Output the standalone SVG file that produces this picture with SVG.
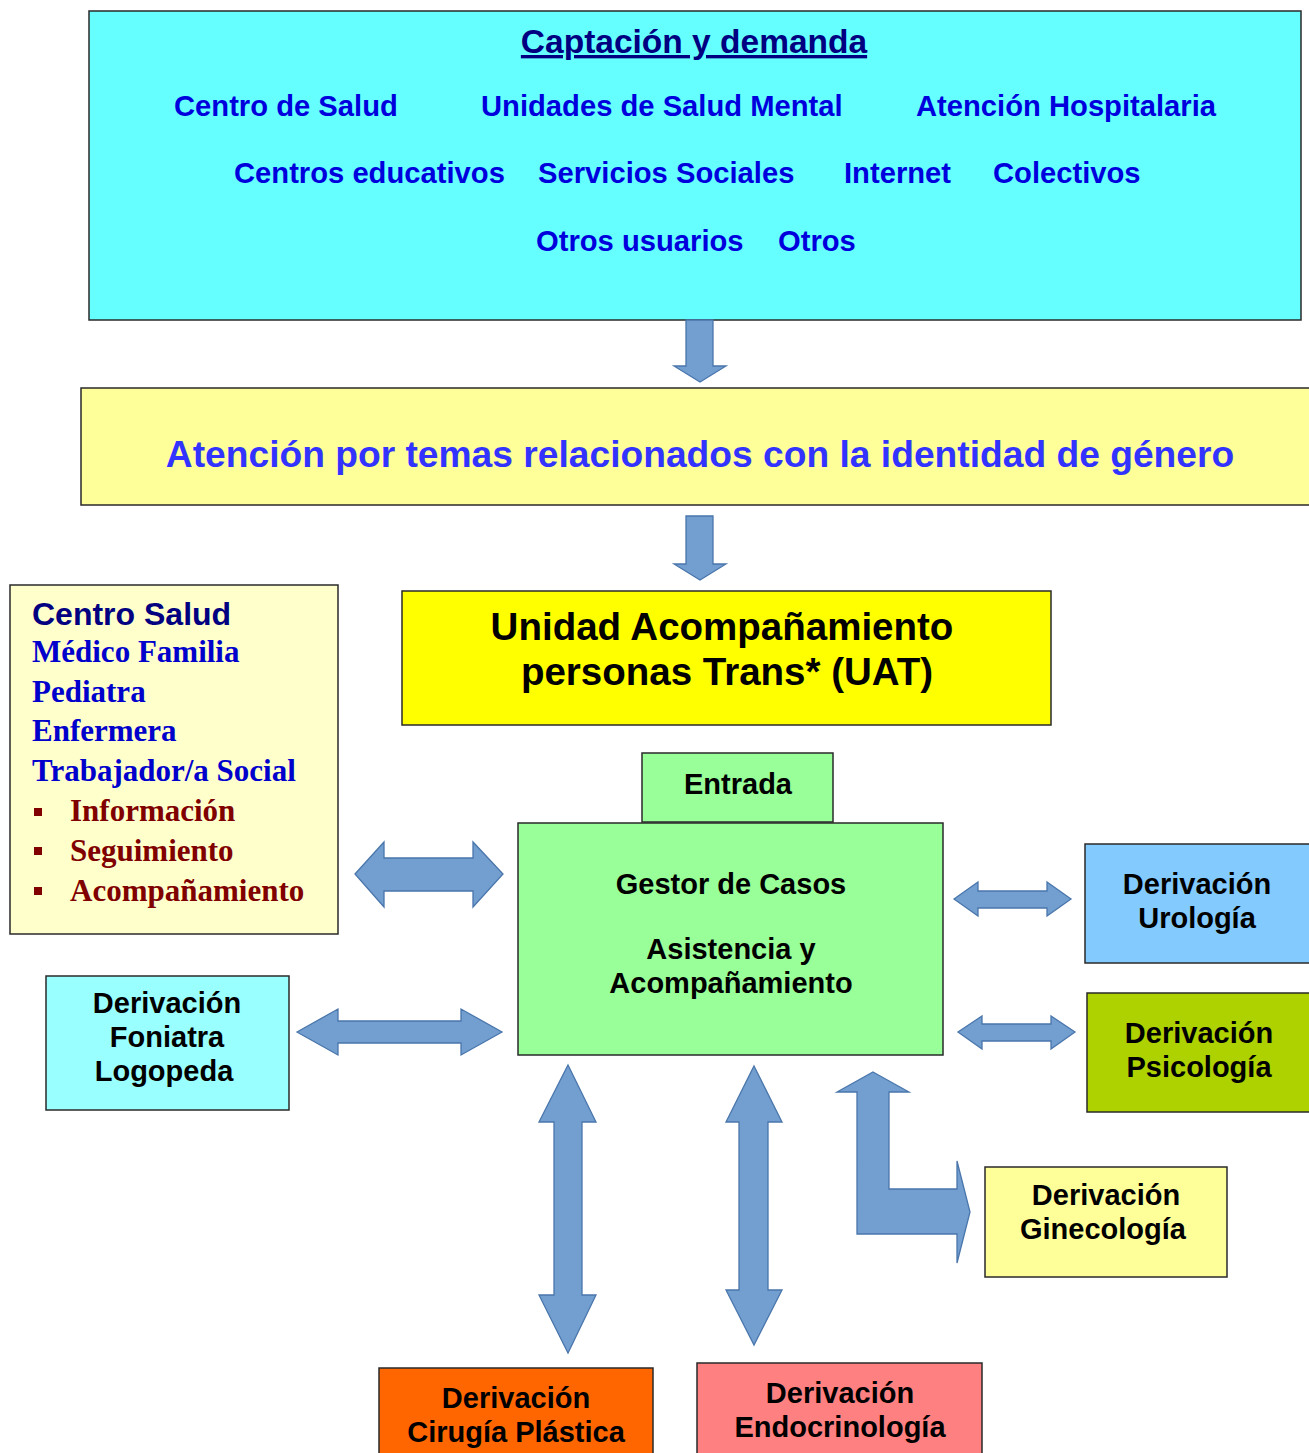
<svg xmlns="http://www.w3.org/2000/svg" width="1309" height="1453" viewBox="0 0 1309 1453">
<style>
.box{stroke:#2a2a2a;stroke-width:1.5}
.arrow{fill:#729FCF;stroke:#4A76AC;stroke-width:1.3;stroke-linejoin:miter}
.s{font-family:"Liberation Sans",Arial,sans-serif;font-weight:bold}
.top{fill:#0000DD;font-size:29.2px}
.lbl{fill:#000;font-size:29px;text-anchor:middle}
.serif{font-family:"Liberation Serif","Times New Roman",serif;font-weight:bold;font-size:31px}
</style>
<rect width="1309" height="1453" fill="#fff"/>
<g id="captacion">
<rect class="box" x="89" y="11" width="1212" height="309" fill="#66FFFF" stroke="#1f4f4f"/>
<text class="s" x="694" y="53" style="font-size:33.5px" fill="#000080" text-anchor="middle" text-decoration="underline">Captación y demanda</text>
<text class="s top" x="174" y="116">Centro de Salud</text>
<text class="s top" x="481" y="116">Unidades de Salud Mental</text>
<text class="s top" x="916" y="116">Atención Hospitalaria</text>
<text class="s top" x="234" y="183">Centros educativos</text>
<text class="s top" x="538" y="183">Servicios Sociales</text>
<text class="s top" x="844" y="183">Internet</text>
<text class="s top" x="993" y="183">Colectivos</text>
<text class="s top" x="536" y="251">Otros usuarios</text>
<text class="s top" x="778" y="251">Otros</text>
</g>
<g id="atencion">
<rect class="box" x="81" y="388" width="1240" height="117" fill="#FFFF99"/>
<text class="s" x="700" y="467" style="font-size:37.2px" fill="#3333FF" text-anchor="middle">Atención por temas relacionados con la identidad de género</text>
</g>
<g id="uat">
<rect class="box" x="402" y="591" width="649" height="134" fill="#FFFF00"/>
<text class="s lbl" x="722" y="640" style="font-size:38.5px">Unidad Acompañamiento</text>
<text class="s lbl" x="727" y="685" style="font-size:38.5px">personas Trans* (UAT)</text>
</g>
<g id="centro-salud">
<rect class="box" x="10" y="585" width="328" height="349" fill="#FFFFCC"/>
<text class="s" x="32" y="625" style="font-size:32px" fill="#000080">Centro Salud</text>
<text class="serif" x="32" y="662" fill="#0000CC">Médico Familia</text>
<text class="serif" x="32" y="702" fill="#0000CC">Pediatra</text>
<text class="serif" x="32" y="741" fill="#0000CC">Enfermera</text>
<text class="serif" x="32" y="781" fill="#0000CC">Trabajador/a Social</text>
<rect x="34" y="808" width="8" height="8" fill="#800000"/>
<rect x="34" y="847" width="8" height="8" fill="#800000"/>
<rect x="34" y="887" width="8" height="8" fill="#800000"/>
<text class="serif" x="70" y="821" fill="#800000">Información</text>
<text class="serif" x="70" y="861" fill="#800000">Seguimiento</text>
<text class="serif" x="70" y="901" fill="#800000">Acompañamiento</text>
</g>
<g id="entrada">
<rect class="box" x="642" y="753" width="191" height="69" fill="#99FF99"/>
<text class="s lbl" x="738" y="794">Entrada</text>
</g>
<g id="gestor">
<rect class="box" x="518" y="823" width="425" height="232" fill="#99FF99" stroke="#2d5a2d"/>
<text class="s lbl" x="731" y="894">Gestor de Casos</text>
<text class="s lbl" x="731" y="959">Asistencia y</text>
<text class="s lbl" x="731" y="993">Acompañamiento</text>
</g>
<g id="foniatra">
<rect class="box" x="46" y="976" width="243" height="134" fill="#99FFFF"/>
<text class="s lbl" x="167" y="1013">Derivación</text>
<text class="s lbl" x="167" y="1047">Foniatra</text>
<text class="s lbl" x="164" y="1081">Logopeda</text>
</g>
<g id="urologia">
<rect class="box" x="1085" y="844" width="230" height="119" fill="#83CAFF"/>
<text class="s lbl" x="1197" y="894">Derivación</text>
<text class="s lbl" x="1197" y="928">Urología</text>
</g>
<g id="psicologia">
<rect class="box" x="1087" y="993" width="230" height="119" fill="#AED100"/>
<text class="s lbl" x="1199" y="1043">Derivación</text>
<text class="s lbl" x="1199" y="1077">Psicología</text>
</g>
<g id="ginecologia">
<rect class="box" x="985" y="1167" width="242" height="110" fill="#FFFF99"/>
<text class="s lbl" x="1106" y="1205">Derivación</text>
<text class="s lbl" x="1103" y="1239">Ginecología</text>
</g>
<g id="cirugia">
<rect class="box" x="379" y="1368" width="274" height="100" fill="#FF6600"/>
<text class="s lbl" x="516" y="1408">Derivación</text>
<text class="s lbl" x="516" y="1442">Cirugía Plástica</text>
</g>
<g id="endocrinologia">
<rect class="box" x="697" y="1363" width="285" height="100" fill="#FF8080"/>
<text class="s lbl" x="840" y="1403">Derivación</text>
<text class="s lbl" x="840" y="1437">Endocrinología</text>
</g>
<g id="connectors">
<polygon class="arrow" points="686,320 713,320 713,366 726,366 700,382 674,366 686,366"/>
<polygon class="arrow" points="686,516 713,516 713,564 726,564 700,580 674,564 686,564"/>
<polygon class="arrow" points="355,874 384,842 384,858 473,858 473,842 503,874 473,907 473,891 384,891 384,907"/>
<polygon class="arrow" points="297,1032 338,1009 338,1021 461,1021 461,1009 502,1032 461,1055 461,1043 338,1043 338,1055"/>
<polygon class="arrow" points="954,899 978,882 978,891 1047,891 1047,882 1071,899 1047,916 1047,908 978,908 978,916"/>
<polygon class="arrow" points="958,1032 982,1016 982,1024 1051,1024 1051,1016 1075,1032 1051,1049 1051,1041 982,1041 982,1049"/>
<polygon class="arrow" points="568,1065 596,1122 582,1122 582,1295 596,1295 568,1353 539,1295 554,1295 554,1122 539,1122"/>
<polygon class="arrow" points="754,1066 782,1122 768,1122 768,1290 782,1290 754,1345 726,1290 739,1290 739,1122 726,1122"/>
<polygon class="arrow" points="873,1072 909,1092 889,1092 889,1189 957,1189 957,1161 970,1212 957,1263 957,1234 857,1234 857,1092 837,1092"/>
</g>
</svg>
